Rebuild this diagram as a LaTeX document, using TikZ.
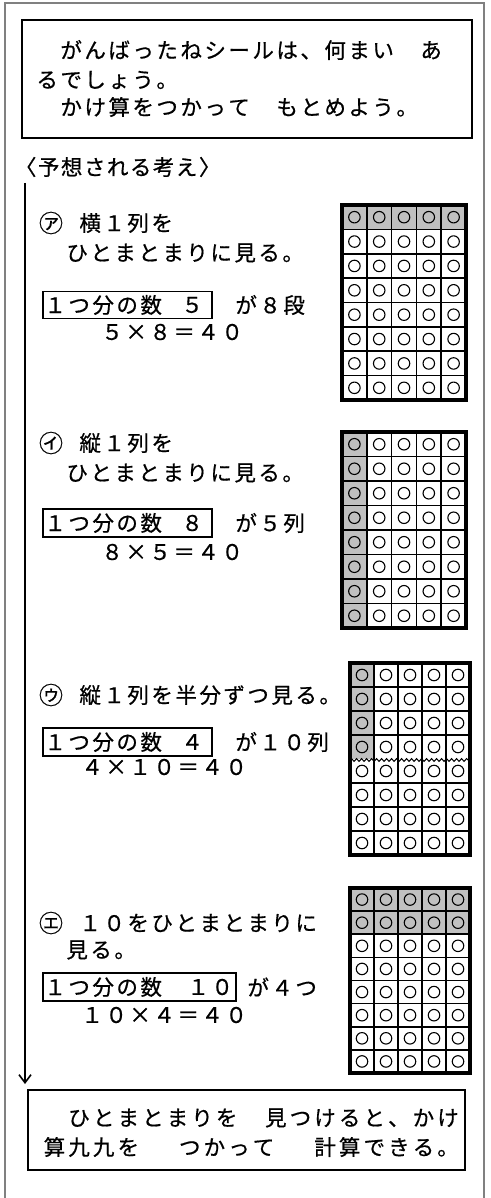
\documentclass[tikz,border=0pt]{standalone}
\usepackage{fontspec}
\newfontfamily\jpf[FakeBold=0.6]{Noto Sans CJK JP}
\usetikzlibrary{arrows.meta,decorations.pathmorphing}
\definecolor{cellgray}{RGB}{192,192,192}
\definecolor{framegray}{RGB}{128,128,128}
\newlength\mjp
\setlength\mjp{24pt}
\let\mjend\relax
\def\hs{\hskip.5\mjp\relax}
\def\mj#1{\mjloop#1\mjend}
\def\mjloop#1{\ifx#1\mjend\else\ifx#1\hs\hskip.5\mjp\relax\else\makebox[\mjp]{#1}\fi\expandafter\mjloop\fi}
\tikzset{
  jt/.style={font=\jpf\fontsize{21.5pt}{24pt}\selectfont, inner sep=0pt, anchor=west},
  mk/.style={font=\jpf\fontsize{24pt}{24pt}\selectfont, inner sep=0pt, anchor=center},
  bigbox/.style={draw, line width=2.4pt, inner sep=0pt},
  nbox/.style={draw, line width=1.5pt, inner sep=0pt},
  gline/.style={line width=1.6pt},
  gframe/.style={line width=3.2pt},
  dot/.style={circle, draw, line width=1.1pt, minimum size=11.5pt, inner sep=0pt},
  outer/.style={draw=framegray, line width=1.2pt},
}
% name, x0, y0, cell w, cell h, list of inner horizontal lines
\newcommand\drawgrid[6]{%
  \foreach \i in {1,...,4} \draw[gline] ({#2+#4*\i},#3) -- ({#2+#4*\i},{#3+8*#5});
  \foreach \j in {#6} \draw[gline] (#2,{#3+#5*\j}) -- ({#2+5*#4},{#3+#5*\j});
  \foreach \i in {0,...,4}{\foreach \j in {0,...,7}{%
    \node[dot] (#1-\i-\j) at ({#2+#4*(\i+.5)},{#3+#5*(\j+.5)}) {};}}
  \draw[gframe] (#2,#3) rectangle ({#2+5*#4},{#3+8*#5});
}
\begin{document}
\begin{tikzpicture}[x=1pt,y=-1pt]
\useasboundingbox (0,0) rectangle (490,1198);
\fill[white] (0,0) rectangle (490,1198);
\draw[outer] (5,1198) -- (5,3) -- (484,3) -- (484,1198);

% top box
\node[bigbox, minimum width=450pt, minimum height=118pt] (top) at (247,79) {};
\node[jt] (top1) at (35,50) {\mj{　がんばったねシールは、何まい　あ}};
\node[jt] (top2) at (35,80) {\mj{るでしょう。}};
\node[jt] (top3) at (35,107) {\mj{　かけ算をつかって　もとめよう。}};

% header
\node[jt] (head) at (14,167) {\setlength\mjp{23pt}\mj{〈予想される考え〉}};

% arrow
\coordinate (aS) at (25,183);
\coordinate (aE) at (25,1084);
\draw[line width=2.2pt, -{Straight Barb[length=8pt,width=12pt,line width=1.6pt]}] (aS) -- (aE);

% section A
\node[mk] (mA) at (51,223) {㋐};
\node[jt] (tA1) at (78,223) {\mj{横１列を}};
\node[jt] (tA2) at (65,253) {\mj{ひとまとまりに見る。}};
\node[nbox, minimum width=169pt, minimum height=27pt] (bA) at (127.5,305) {};
\node[jt] (bAt) at (43,305) {\mj{１つ分の数}};
\node[jt] (bAn) at (180,305) {\mj{５}};
\node[jt] (gA) at (234,305) {\mj{が８段}};
\node[jt] (fA) at (100,332) {\mj{５×８＝４０}};
\fill[cellgray] (342,205) rectangle (466,229.375);
\drawgrid{GA}{342}{205}{24.8}{24.375}{1,...,7}

% section B
\node[mk] (mB) at (51,443) {㋑};
\node[jt] (tB1) at (78,443) {\mj{縦１列を}};
\node[jt] (tB2) at (65,473) {\mj{ひとまとまりに見る。}};
\node[nbox, minimum width=169pt, minimum height=28pt] (bB) at (127.5,523) {};
\node[jt] (bBt) at (43,523) {\mj{１つ分の数}};
\node[jt] (bBn) at (180,523) {\mj{８}};
\node[jt] (gB) at (234,523) {\mj{が５列}};
\node[jt] (fB) at (100,552) {\mj{８×５＝４０}};
\fill[cellgray] (342,432) rectangle (366.8,628);
\drawgrid{GB}{342}{432}{24.8}{24.5}{1,...,7}

% section C
\node[mk] (mC) at (51,695) {㋒};
\node[jt] (tC1) at (78,695) {\mj{縦１列を半分ずつ見る。}};
\node[nbox, minimum width=169pt, minimum height=28pt] (bC) at (127.5,742) {};
\node[jt] (bCt) at (43,742) {\mj{１つ分の数}};
\node[jt] (bCn) at (180,742) {\mj{４}};
\node[jt] (gC) at (234,742) {\mj{が１０列}};
\node[jt] (fC) at (80,767) {\mj{４×１０＝４０}};
\fill[cellgray] (350,663) rectangle (374,759);
\drawgrid{GC}{350}{663}{24}{24}{1,2,3,5,6,7}
\draw[line width=1pt, decorate, decoration={snake, amplitude=1.4pt, segment length=5pt}] (350,760) -- (470,760);

% section D
\node[mk] (mD) at (51,923) {㋓};
\node[jt] (tD1) at (78,923) {\mj{１０をひとまとまりに}};
\node[jt] (tD2) at (65,950) {\mj{見る。}};
\node[nbox, minimum width=193pt, minimum height=28pt] (bD) at (139.5,987) {};
\node[jt] (bDt) at (43,987) {\mj{１つ分の数}};
\node[jt] (bDn) at (186,987) {\mj{１０}};
\node[jt] (gD) at (246,987) {\mj{が４つ}};
\node[jt] (fD) at (80,1015) {\mj{１０×４＝４０}};
\fill[cellgray] (350,888) rectangle (470,934.25);
\drawgrid{GD}{350}{888}{24}{23.125}{1,...,7}

% bottom box
\node[bigbox, minimum width=437pt, minimum height=80pt] (bot) at (246.5,1130) {};
\node[jt] (bot1) at (42,1118) {\setlength\mjp{24.6pt}\mj{　ひとまとまりを　見つけると、かけ}};
\node[jt] (bot2) at (42,1147) {\setlength\mjp{24.6pt}\mj{算九九を　\hs つかって　\hs 計算できる。}};
\end{tikzpicture}
\end{document}
